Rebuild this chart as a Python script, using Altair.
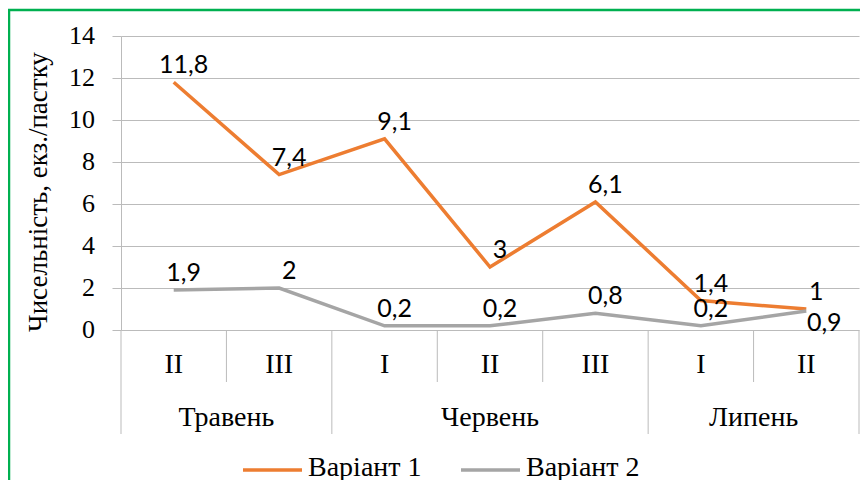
import altair as alt
import pandas as pd

weeks = ["II", "III", "I", "II", "III", "I", "II"]
months = ["Травень", "Травень", "Червень", "Червень", "Червень", "Липень", "Липень"]
variant1 = [11.8, 7.4, 9.1, 3, 6.1, 1.4, 1]
variant2 = [1.9, 2, 0.2, 0.2, 0.8, 0.2, 0.9]
series_names = ["Варіант 1", "Варіант 2"]
series_colors = ["#ED7D31", "#A5A5A5"]
y_ticks = [0, 2, 4, 6, 8, 10, 12, 14]
y_title = "Чисельність, екз./пастку"

SERIF = "Liberation Serif"
SANS = "Lato"
GRID = "#BBBBBB"

n = len(weeks)
rows = []
for name, vals, other in [(series_names[0], variant1, variant2), (series_names[1], variant2, variant1)]:
    for i, (w, m, v) in enumerate(zip(weeks, months, vals)):
        # a label goes under its point only when it would collide with the other series' label
        below = abs(v - other[i]) < 0.5 and v < other[i]
        rows.append(dict(series=name, idx=i, week=w, month=m, value=v,
                         label=f"{v:g}".replace(".", ","), below=below))
df = pd.DataFrame(rows)

cat = pd.DataFrame({"idx": list(range(n)), "week": weeks, "month": months})

seps = []
for b in range(n + 1):
    is_group = b == 0 or b == n or months[b - 1] != months[b]
    seps.append(dict(pos=b - 0.5, group=is_group))
sep_df = pd.DataFrame(seps)

ytick_df = pd.DataFrame({"v": y_ticks})

# legend layout (pixel offsets relative to the plot area)
leg_df = pd.DataFrame({
    "series": series_names,
    "x0": [122, 340],
})
leg_df["x1"] = leg_df["x0"] + 59
leg_df["tx"] = leg_df["x0"] + 65

xs = alt.Scale(domain=[-0.5, n - 0.5], nice=False, zero=False)
ys = alt.Scale(domain=[0, 14], nice=False)
cs = alt.Scale(domain=series_names, range=series_colors)

yaxis = alt.Axis(values=y_ticks, grid=True, gridColor=GRID, gridWidth=1,
                 domainColor=GRID, tickColor=GRID, tickSize=9, labels=False, title=None)

border = alt.Chart(pd.DataFrame({"a": [0]})).mark_rect(
    fillOpacity=0, stroke="#00B050", strokeWidth=2.5
).encode(x=alt.value(-112), x2=alt.value(780), y=alt.value(-26), y2=alt.value(500))

sep_short = alt.Chart(sep_df).transform_filter("!datum.group").mark_rule(color=GRID, strokeWidth=1).encode(
    x=alt.X("pos:Q", scale=xs, axis=None), y=alt.value(294), y2=alt.value(346))
sep_long = alt.Chart(sep_df).transform_filter("datum.group").mark_rule(color=GRID, strokeWidth=1).encode(
    x=alt.X("pos:Q", scale=xs, axis=None), y=alt.value(294), y2=alt.value(398))

lines = alt.Chart(df).mark_line(strokeWidth=3.5).encode(
    x=alt.X("idx:Q", scale=xs, axis=None),
    y=alt.Y("value:Q", scale=ys, axis=yaxis),
    color=alt.Color("series:N", scale=cs, legend=None),
    order="idx:Q",
)

ylabels = alt.Chart(ytick_df).mark_text(
    font=SERIF, fontSize=26, color="black", align="right", baseline="middle"
).encode(x=alt.value(-26), y=alt.Y("v:Q", scale=ys, axis=yaxis), text=alt.Text("v:Q", format="d"))

ytitle = alt.Chart(pd.DataFrame({"t": [y_title]})).mark_text(
    font=SERIF, fontSize=27, color="black", align="center", baseline="alphabetic", angle=270
).encode(x=alt.value(-74), y=alt.value(156), text="t:N")

lab_above = alt.Chart(df).transform_filter("!datum.below").mark_text(
    font=SANS, fontSize=25, color="black", dx=10, dy=-17, baseline="middle"
).encode(x=alt.X("idx:Q", scale=xs, axis=None), y=alt.Y("value:Q", scale=ys, axis=yaxis), text="label:N")

lab_below = alt.Chart(df).transform_filter("datum.below").mark_text(
    font=SANS, fontSize=25, color="black", dx=18, dy=12, baseline="middle"
).encode(x=alt.X("idx:Q", scale=xs, axis=None), y=alt.Y("value:Q", scale=ys, axis=yaxis), text="label:N")

week_text = alt.Chart(cat).mark_text(font=SERIF, fontSize=28, color="black", baseline="middle").encode(
    x=alt.X("idx:Q", scale=xs, axis=None), y=alt.value(329), text="week:N")

month_text = alt.Chart(cat).transform_aggregate(c="mean(idx)", groupby=["month"]).mark_text(
    font=SERIF, fontSize=28, color="black", baseline="middle"
).encode(x=alt.X("c:Q", scale=xs, axis=None), y=alt.value(382), text="month:N")

leg_lines = alt.Chart(leg_df).mark_rule(strokeWidth=3.5).encode(
    x=alt.X("x0:Q", scale=None, axis=None), x2="x1:Q", y=alt.value(434),
    color=alt.Color("series:N", scale=cs, legend=None))

leg_text = alt.Chart(leg_df).mark_text(
    font=SERIF, fontSize=28, color="black", align="left", baseline="middle"
).encode(x=alt.X("tx:Q", scale=None, axis=None), y=alt.value(432), text="series:N")

chart = alt.layer(border, sep_short, sep_long, lines, ylabels, ytitle, lab_above, lab_below,
                  week_text, month_text, leg_lines, leg_text).properties(
    width=738, height=294,
    autosize=alt.AutoSizeParams(type="none"),
    padding={"left": 113, "top": 28, "right": 1, "bottom": 150},
    background="white",
).configure_view(stroke=None)

chart.save("out.html", embed_options={"renderer": "svg", "actions": False})
